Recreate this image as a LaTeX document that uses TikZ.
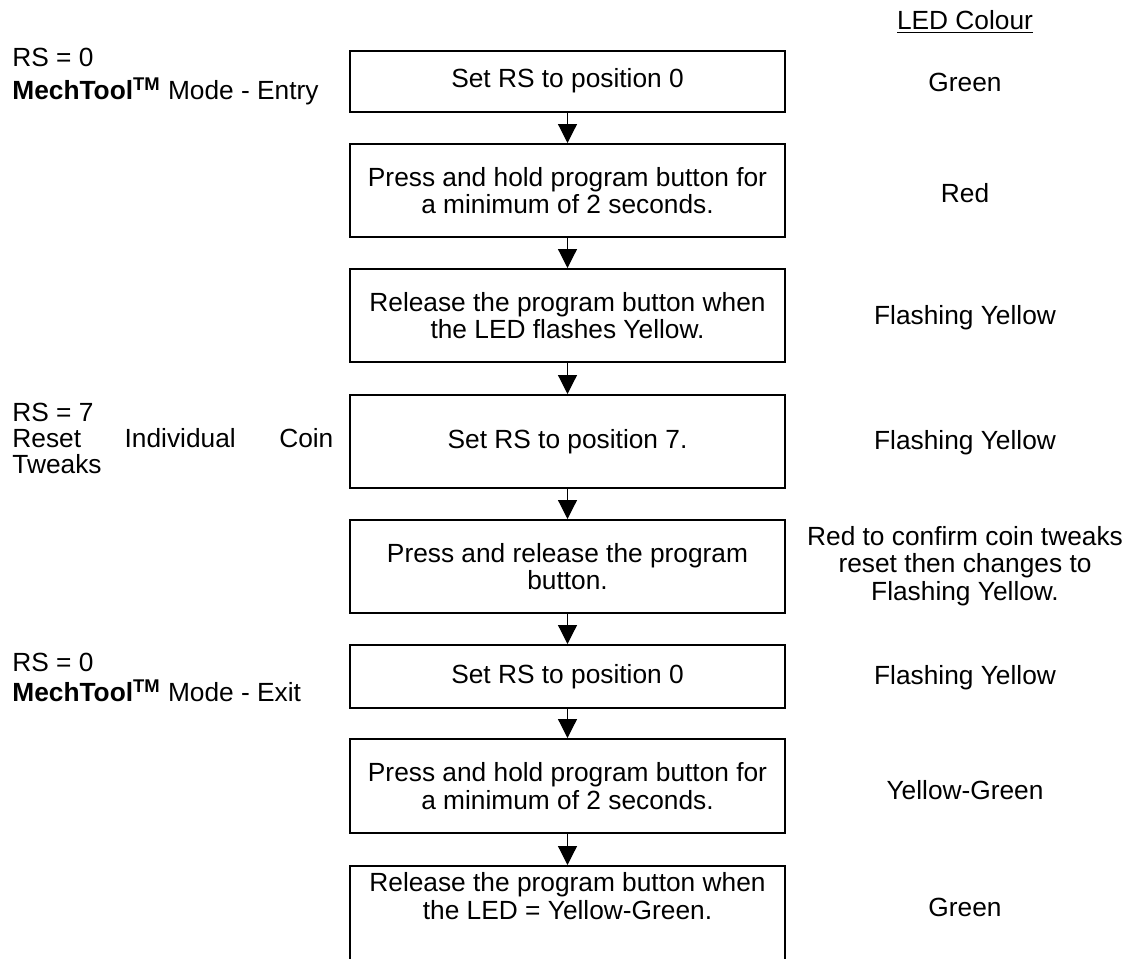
\documentclass[tikz,border=0pt]{standalone}
\usepackage{fontspec}
\setmainfont{Liberation Sans}
\usetikzlibrary{arrows.meta}
\begin{document}
\begin{tikzpicture}[x=0.5pt,y=-0.5pt,
  every node/.style={font=\fontsize{13.15}{13.75}\selectfont},
  stepbox/.style={draw, line width=1pt, minimum width=217.5pt, align=center, inner sep=0pt},
  ledtext/.style={align=center, inner sep=0pt},
  lefttext/.style={anchor=base west, inner sep=0pt},
  arr/.style={line width=0.6pt, -{Triangle[width=9.5pt,length=9.5pt]}}]
\useasboundingbox (0,0) rectangle (1129,958);
% boxes
\node[stepbox, minimum height=30.5pt] (b1) at (567.5,81) {Set RS to position 0};
\node[stepbox, minimum height=46.5pt] (b2) at (567.5,190.5) {Press and hold program button for\\a minimum of 2 seconds.};
\node[stepbox, minimum height=46.5pt] (b3) at (567.5,315.5) {Release the program button when\\the LED flashes Yellow.};
\node[stepbox, minimum height=46.5pt] (b4) at (567.5,441.5) {Set RS to position 7.};
\node[stepbox, minimum height=46.5pt] (b5) at (567.5,566.5) {Press and release the program\\button.};
\node[stepbox, minimum height=31.5pt] (b6) at (567.5,676.5) {Set RS to position 0};
\node[stepbox, minimum height=47pt] (b7) at (567.5,786) {Press and hold program button for\\a minimum of 2 seconds.};
\node[stepbox, minimum height=47pt, text depth=17pt] (b8) at (567.5,913) {Release the program button when\\the LED = Yellow-Green.};
% arrows
\draw[arr] (b1.south) -- (b2.north);
\draw[arr] (b2.south) -- (b3.north);
\draw[arr] (b3.south) -- (b4.north);
\draw[arr] (b4.south) -- (b5.north);
\draw[arr] (b5.south) -- (b6.north);
\draw[arr] (b6.south) -- (b7.north);
\draw[arr] (b7.south) -- (b8.north);
% LED colour column
\node[ledtext, anchor=base] (hdr) at (965,29.5) {\underline{LED Colour}};
\node[ledtext] (c1) at (965,82) {Green};
\node[ledtext] (c2) at (965,193) {Red};
\node[ledtext] (c3) at (965,318) {Flashing Yellow};
\node[ledtext] (c4) at (965,443) {Flashing Yellow};
\node[ledtext] (c5) at (965,566) {Red to confirm coin tweaks\\reset then changes to\\Flashing Yellow.};
\node[ledtext] (c6) at (965,678) {Flashing Yellow};
\node[ledtext] (c7) at (965,790) {Yellow-Green};
\node[ledtext] (c8) at (965,907) {Green};
% left labels
\node[lefttext] (l1) at (12,66.5) {RS = 0};
\node[lefttext] (l2) at (12,99.5) {\textbf{MechTool\textsuperscript{TM}} Mode - Entry};
\node[lefttext] (l3) at (12,421.5) {RS = 7};
\node[lefttext] (l4) at (12,447) {\makebox[160.5pt][s]{Reset\hfill Individual\hfill Coin}};
\node[lefttext] (l5) at (12,473) {Tweaks};
\node[lefttext] (l6) at (12,671.5) {RS = 0};
\node[lefttext] (l7) at (12,701.5) {\textbf{MechTool\textsuperscript{TM}} Mode - Exit};
\end{tikzpicture}
\end{document}
